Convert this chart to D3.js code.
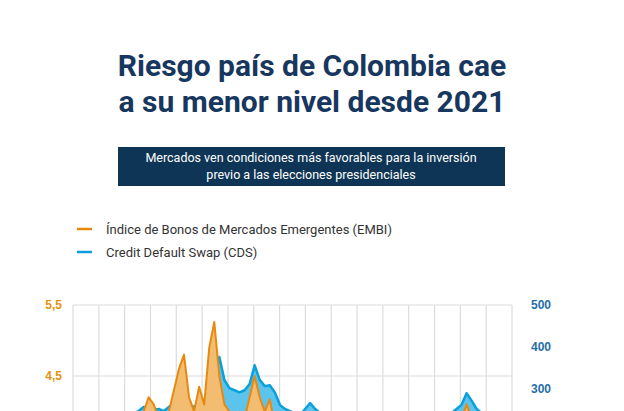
<!DOCTYPE html>
<html><head><meta charset="utf-8">
<script src="https://cdn.jsdelivr.net/npm/d3@7"></script>
<style>body{margin:0;background:#fff}svg{display:block;font-family:Roboto,sans-serif}</style>
</head><body><div id="chart"></div>
<script>
const embi = [3.2,3.3,3.4,3.3,3.5,3.6,3.4,3.5,3.6,3.7,
  3.8,3.7,3.9,3.8,4.0,4.2,4.1,3.9,3.8,4.0,
  4.3,4.6,4.8,4.2,4.0,4.35,4.1,4.9,5.26,4.5,
  4.1,4.0,3.9,4.0,3.9,4.2,4.5,4.2,4.0,4.17,
  3.8,3.7,3.8,3.6,3.7,3.8,3.9,3.9,3.8,3.7,
  3.6,3.5,3.6,3.5,3.4,3.5,3.6,3.5,3.4,3.5,
  3.6,3.7,3.6,3.5,3.4,3.3,3.4,3.5,3.4,3.3,
  3.4,3.5,3.6,3.7,3.6,3.7,3.8,3.9,4.1,3.9,
  3.7,3.6,3.5,3.4,3.4,3.3,3.2,3.1];
const cds = [180,190,195,190,200,210,200,205,210,220,
  230,225,240,245,255,250,248,250,245,255,
  265,270,275,260,255,265,270,300,320,375,
  320,300,295,290,295,310,355,320,305,307,
  290,260,250,245,240,235,250,264,250,240,
  230,225,230,220,215,220,225,220,210,215,
  220,225,220,215,210,205,210,215,210,205,
  210,215,220,230,235,240,250,260,288,270,
  250,240,230,220,215,210,205,200];
const leftTicks = [5.5, 4.5];
const rightTicks = [500, 400, 300];
const gridCols = d3.range(18);

const svg = d3.select("#chart").append("svg").attr("width", 624).attr("height", 411);

// title
svg.append("text").attr("x", 312).attr("text-anchor", "middle").attr("fill", "#17375e")
  .attr("font-size", 30).attr("font-weight", 700)
  .selectAll("tspan").data(["Riesgo país de Colombia cae", "a su menor nivel desde 2021"])
  .enter().append("tspan").attr("x", 312).attr("y", (d, i) => 76 + i * 36).text(d => d);

svg.append("rect").attr("x", 118).attr("y", 147).attr("width", 387).attr("height", 39).attr("fill", "#0f3556");
svg.append("text").attr("text-anchor", "middle").attr("fill", "#fff").attr("font-size", 12.5)
  .selectAll("tspan").data(["Mercados ven condiciones más favorables para la inversión", "previo a las elecciones presidenciales"])
  .enter().append("tspan").attr("x", 311).attr("y", (d, i) => 162 + i * 17).text(d => d);

// legend
const legend = [["Índice de Bonos de Mercados Emergentes (EMBI)", "#e8890f"], ["Credit Default Swap (CDS)", "#0aa0dc"]];
legend.forEach(([t, c], i) => {
  const y = 229 + i * 23;
  svg.append("line").attr("x1", 77).attr("x2", 92).attr("y1", y).attr("y2", y).attr("stroke", c).attr("stroke-width", 2.5);
  svg.append("text").attr("x", 106).attr("y", y + 4.5).attr("font-size", 13).attr("fill", "#333").text(t);
});

const pLeft = 73, pRight = 512, pTop = 305;
const x = d3.scaleLinear().domain([0, embi.length - 1]).range([pLeft, pRight]);
const xg = d3.scaleLinear().domain([0, 17]).range([pLeft, pRight]);
const yL = d3.scaleLinear().domain([1.5, 5.5]).range([pTop + 284, pTop]);
const yR = d3.scaleLinear().domain([0, 500]).range([pTop + 208, pTop]);

const grid = svg.append("g").attr("stroke", "#dcdcdc").attr("stroke-width", 1.2);
grid.selectAll(".v").data(gridCols).enter().append("line")
  .attr("x1", d => xg(d)).attr("x2", d => xg(d)).attr("y1", pTop).attr("y2", 600);
grid.selectAll(".h").data(leftTicks).enter().append("line")
  .attr("x1", pLeft).attr("x2", pRight).attr("y1", d => yL(d)).attr("y2", d => yL(d));

const base = 700;
const areaC = d3.area().x((d, i) => x(i)).y0(base).y1(d => yR(d));
const areaE = d3.area().x((d, i) => x(i)).y0(base).y1(d => yL(d));
svg.append("path").datum(cds).attr("d", areaC).attr("fill", "#5cc3ec").attr("stroke", "#0aa0dc").attr("stroke-width", 2.5).attr("stroke-linejoin", "round");
svg.append("path").datum(embi).attr("d", areaE).attr("fill", "#f2bd70").attr("stroke", "#e8890f").attr("stroke-width", 2).attr("stroke-linejoin", "round");

svg.append("g").attr("transform", `translate(${pLeft - 8},0)`)
  .call(d3.axisLeft(yL).tickValues(leftTicks).tickSize(0).tickFormat(d => d3.format(".1f")(d).replace(".", ",")))
  .call(g => g.select(".domain").remove())
  .selectAll("text").attr("fill", "#e8900f").attr("font-weight", 700).attr("font-size", 12);
svg.append("g").attr("transform", `translate(${pRight + 16},0)`)
  .call(d3.axisRight(yR).tickValues(rightTicks).tickSize(0))
  .call(g => g.select(".domain").remove())
  .selectAll("text").attr("fill", "#1f6ea8").attr("font-weight", 700).attr("font-size", 12);
</script></body></html>
